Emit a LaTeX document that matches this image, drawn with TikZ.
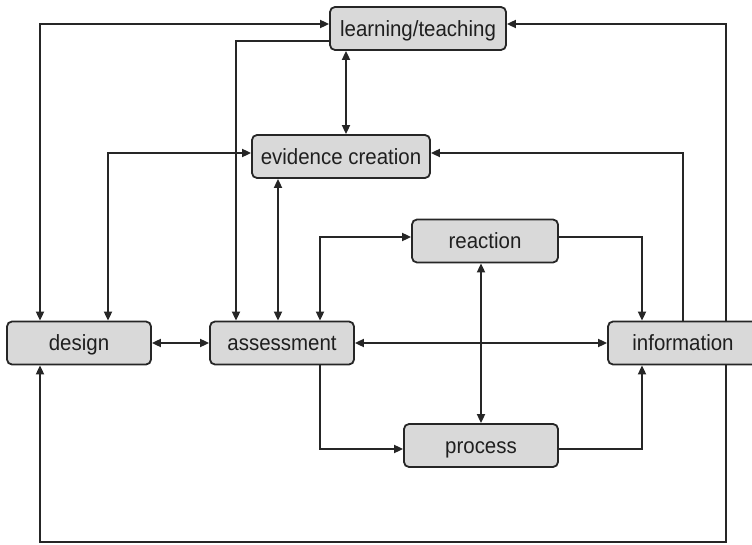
\documentclass[tikz,border=0pt]{standalone}
\usepackage{fontspec}
\setmainfont{Liberation Sans}[FakeStretch=0.93]
\usetikzlibrary{arrows.meta}
\begin{document}
\begin{tikzpicture}[x=1pt,y=-1pt,
  >={Triangle[length=9pt,width=8pt]},
  box/.style={draw=black!85, line width=1.8pt, fill=black!15,
    rounded corners=5pt, minimum height=43pt, inner sep=0pt,
    text height=15.5pt, text depth=0pt,
    font=\fontsize{22}{26}\selectfont, text=black!88},
  link/.style={line width=1.8pt, draw=black!85}]
\useasboundingbox (0,0) rectangle (752,545);

% boxes
\node[box, minimum width=176pt] (learn)   at (418,28.5)  {learning/teaching};
\node[box, minimum width=178pt] (evid)    at (341,156.5) {evidence creation};
\node[box, minimum width=146pt] (react)   at (485,241)   {reaction};
\node[box, minimum width=144pt] (design)  at (79,343)    {design};
\node[box, minimum width=144pt] (assess)  at (282,343)   {assessment};
\node[box, minimum width=150pt] (info)    at (683,343)   {information};
\node[box, minimum width=154pt] (process) at (481,445.5) {process};

\coordinate (loopcorner) at (726,542);

% outer loops
\draw[link,<->] (design.north -| 40,0) |- (learn.west |- 0,24);
\draw[link,->] (info.north -| 726,0) |- (learn.east |- 0,24);
\draw[link,->] (info.south -| loopcorner) -- (loopcorner) -| (design.south -| 40,0);

% links around learning/teaching and evidence creation
\draw[link,->] (learn.west |- 0,41) -| (assess.north -| 236,0);
\draw[link,<->] (learn.south -| 346,0) -- (evid.north -| 346,0);
\draw[link,<->] (evid.west |- 0,153) -| (design.north -| 108,0);
\draw[link,<->] (evid.south -| 278,0) -- (assess.north -| 278,0);
\draw[link,->] (info.north -| 683,0) |- (evid.east |- 0,153);

% reaction and process
\draw[link,<->] (assess.north -| 320,0) |- (react.west |- 0,237);
\draw[link,->] (react.east |- 0,237) -| (info.north -| 642,0);
\draw[link,<->] (react.south -| 481,0) -- (process.north -| 481,0);
\draw[link,->] (assess.south -| 320,0) |- (process.west |- 0,449);
\draw[link,->] (process.east |- 0,449) -| (info.south -| 642,0);

% horizontal row
\draw[link,<->] (design.east) -- (assess.west);
\draw[link,<->] (assess.east) -- (info.west);
\end{tikzpicture}
\end{document}
